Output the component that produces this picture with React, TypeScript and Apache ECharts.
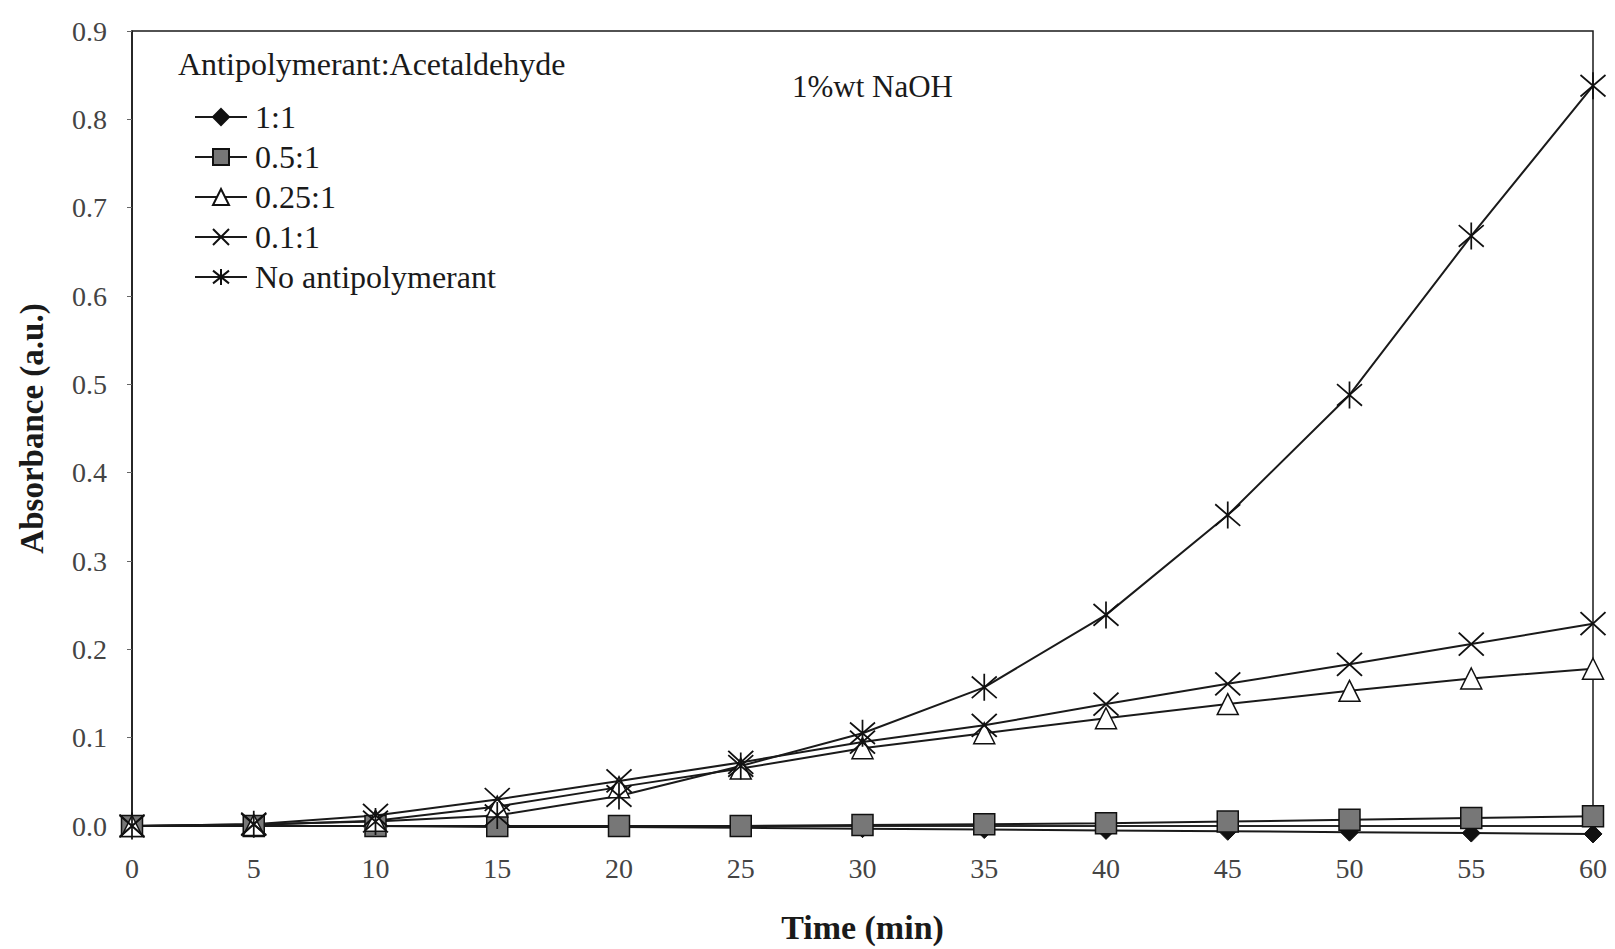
import React, { useEffect, useRef } from "react";
import * as echarts from "echarts";

const times = [0, 5, 10, 15, 20, 25, 30, 35, 40, 45, 50, 55, 60];
const yTicks = [0, 0.1, 0.2, 0.3, 0.4, 0.5, 0.6, 0.7, 0.8, 0.9];
const ratio1 = [0, 0, 0, -0.001, -0.001, -0.002, -0.003, -0.004, -0.005, -0.006, -0.007, -0.008, -0.009];
const ratio05 = [0, 0, 0, 0, 0, 0, 0.001, 0.002, 0.003, 0.005, 0.007, 0.009, 0.011];
const ratio025 = [0, 0.001, 0.006, 0.022, 0.044, 0.065, 0.088, 0.105, 0.122, 0.138, 0.153, 0.167, 0.178];
const ratio01 = [0, 0.002, 0.012, 0.03, 0.051, 0.072, 0.095, 0.114, 0.138, 0.161, 0.183, 0.206, 0.229];
const noAnti = [0, 0.002, 0.005, 0.012, 0.034, 0.068, 0.105, 0.157, 0.239, 0.352, 0.488, 0.668, 0.838];
const seriesNames = ["1:1", "0.5:1", "0.25:1", "0.1:1", "No antipolymerant"];

const FONT = "'Liberation Serif', 'DejaVu Serif', serif";
const INK = "#1a1a1a";

const xPath = "path://M0,0L20,20M20,0L0,20";
const starPath = "path://M0,2L20,18M20,2L0,18M10,0L10,20";

export default function App() {
  const ref = useRef<HTMLDivElement>(null);
  useEffect(() => {
    if (!ref.current) return;
    const chart = echarts.init(ref.current, null, { renderer: "svg" });
    const pair = (arr: number[]) => times.map((t, i) => [t, arr[i]]);
    const base = {
      type: "line",
      clip: false,
      lineStyle: { color: INK, width: 2 },
      z: 3,
    };
    const series: any[] = [
      {
        ...base,
        name: seriesNames[0],
        data: pair(ratio1),
        symbol: "diamond",
        symbolSize: 18,
        itemStyle: { color: "#111", borderColor: "#111", borderWidth: 1 },
      },
      {
        ...base,
        name: seriesNames[1],
        data: pair(ratio05),
        symbol: "rect",
        symbolSize: 21,
        itemStyle: { color: "#777", borderColor: "#111", borderWidth: 1.5 },
      },
      {
        ...base,
        name: seriesNames[2],
        data: pair(ratio025),
        symbol: "triangle",
        symbolSize: 21,
        itemStyle: { color: "#fff", borderColor: "#111", borderWidth: 1.5 },
      },
      {
        ...base,
        name: seriesNames[3],
        data: pair(ratio01),
        symbol: xPath,
        symbolSize: [25, 23],
        itemStyle: { color: "none", borderColor: "#111", borderWidth: 1.8 },
      },
      {
        ...base,
        name: seriesNames[4],
        data: pair(noAnti),
        symbol: starPath,
        symbolSize: [25, 27],
        itemStyle: { color: "none", borderColor: "#111", borderWidth: 1.8 },
      },
    ];
    chart.setOption({
      animation: false,
      backgroundColor: "#fff",
      textStyle: { fontFamily: FONT },
      grid: {
        left: 132,
        right: 22,
        top: 31,
        bottom: 123,
        show: true,
        borderColor: INK,
        borderWidth: 1.5,
        backgroundColor: "transparent",
      },
      xAxis: {
        type: "value",
        min: 0,
        max: 60,
        interval: 5,
        name: "Time (min)",
        nameLocation: "middle",
        nameGap: 84,
        nameTextStyle: { fontFamily: FONT, fontSize: 34, fontWeight: "bold", color: INK },
        axisLine: { show: true, lineStyle: { color: INK, width: 1.5 } },
        axisTick: { show: false },
        splitLine: { show: false },
        axisLabel: { fontFamily: FONT, fontSize: 28, color: "#444", margin: 28 },
      },
      yAxis: {
        type: "value",
        min: 0,
        max: 0.9,
        interval: 0.1,
        name: "Absorbance (a.u.)",
        nameLocation: "middle",
        nameGap: 84,
        nameTextStyle: { fontFamily: FONT, fontSize: 33, fontWeight: "bold", color: INK },
        axisLine: { show: true, lineStyle: { color: INK, width: 1.5 } },
        axisTick: { show: true, length: 5, inside: false, lineStyle: { color: "#666" } },
        splitLine: { show: false },
        axisLabel: {
          fontFamily: FONT,
          fontSize: 28,
          color: "#444",
          margin: 25,
          formatter: (v: number) => {
            const t = yTicks.find((y) => Math.abs(y - v) < 1e-9);
            return (t ?? v).toFixed(1);
          },
        },
      },
      legend: {
        orient: "vertical",
        left: 189,
        top: 96,
        itemWidth: 52,
        itemHeight: 20,
        itemGap: 8,
        data: seriesNames,
        textStyle: { fontFamily: FONT, fontSize: 32, color: INK, padding: [0, 0, 0, 3] },
        inactiveColor: INK,
        selectedMode: false,
      },
      graphic: [
        {
          type: "text",
          x: 178,
          y: 64,
          style: {
            text: "Antipolymerant:Acetaldehyde",
            font: `32px ${FONT}`,
            fill: INK,
            verticalAlign: "middle",
          },
        },
        {
          type: "text",
          x: 792,
          y: 86,
          style: { text: "1%wt NaOH", font: `31px ${FONT}`, fill: INK, verticalAlign: "middle" },
        },
      ],
      series,
    });
    return () => chart.dispose();
  }, []);
  return (
    <div
      ref={ref}
      style={{ position: "absolute", left: 0, top: 0, width: 1615, height: 949, background: "#fff" }}
    />
  );
}
